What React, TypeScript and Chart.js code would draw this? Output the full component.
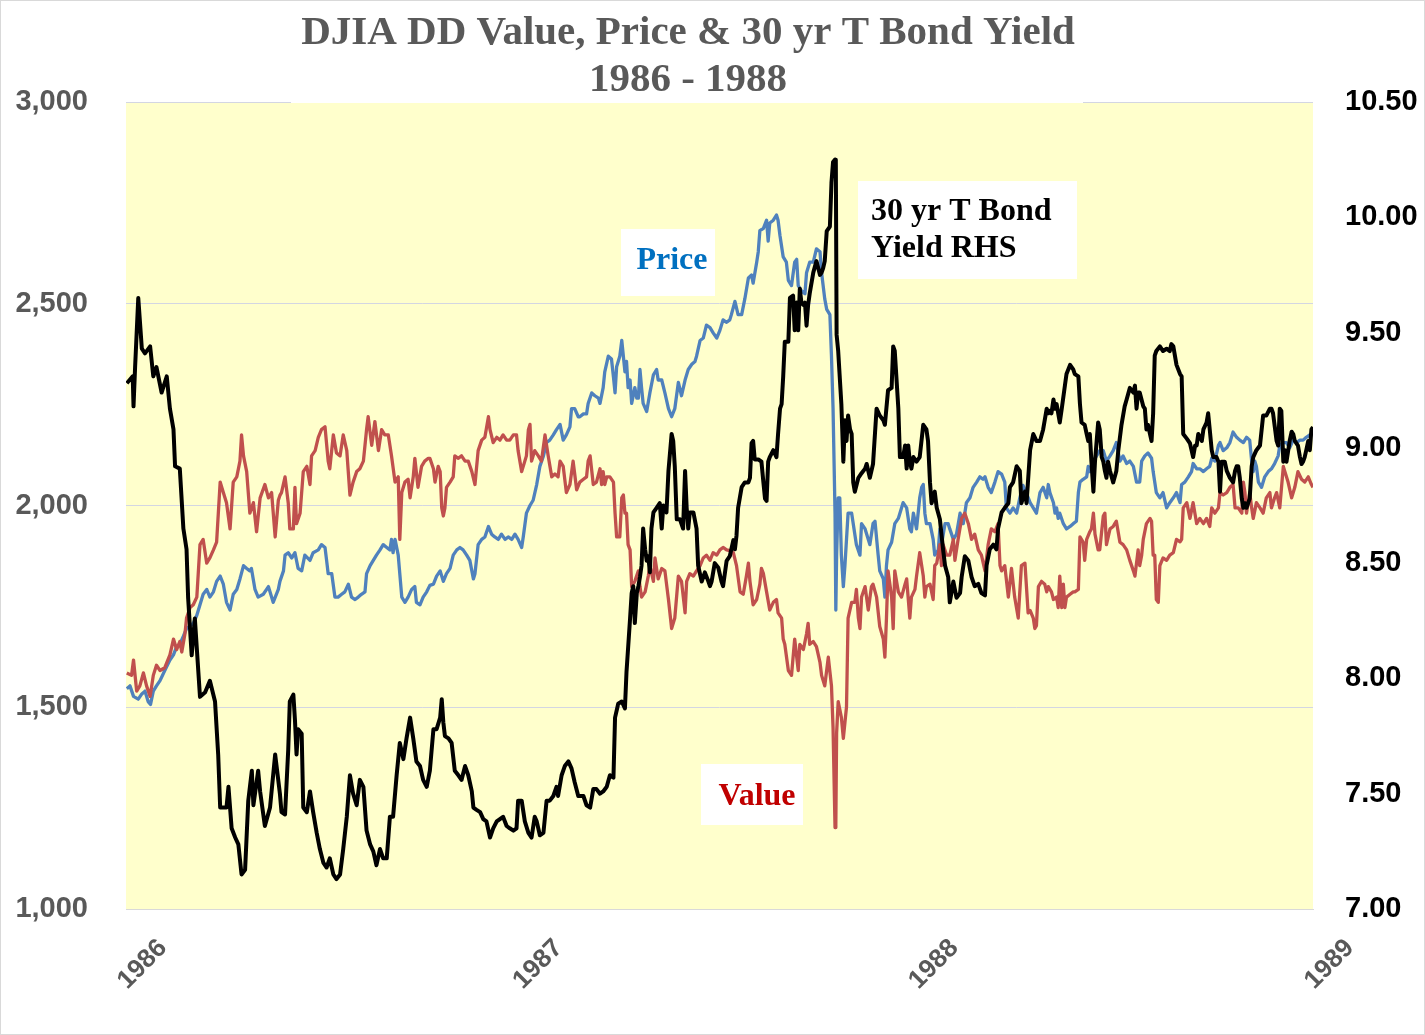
import React, { useEffect, useRef } from "react";
import { Chart, registerables } from "chart.js";

Chart.register(...registerables);

const TITLE_LINES = ["DJIA DD Value, Price & 30 yr T Bond Yield", "1986 - 1988"];
const YEAR_TICKS = [1986, 1987, 1988, 1989];
const LEFT_TICKS = [1000, 1500, 2000, 2500, 3000];
const RIGHT_TICKS = [7, 7.5, 8, 8.5, 9, 9.5, 10, 10.5];

// [decimal year, DJIA price]
const price: [number, number][] = [
  [1986.002,1546],[1986.010,1553],[1986.019,1527],[1986.031,1520],[1986.040,1533],[1986.048,1540],[1986.056,1514],[1986.062,1507],[1986.069,1540],[1986.077,1553],[1986.086,1566],[1986.098,1591],[1986.111,1617],[1986.120,1630],[1986.128,1650],[1986.136,1656],[1986.145,1676],[1986.153,1695],[1986.162,1702],[1986.170,1708],[1986.179,1728],[1986.187,1754],[1986.195,1780],[1986.204,1792],[1986.212,1773],[1986.221,1786],[1986.229,1812],[1986.238,1825],[1986.246,1805],[1986.254,1760],[1986.263,1741],[1986.271,1780],[1986.280,1792],[1986.288,1818],[1986.297,1851],[1986.305,1844],[1986.313,1838],[1986.317,1844],[1986.326,1792],[1986.334,1773],[1986.347,1780],[1986.360,1799],[1986.372,1760],[1986.385,1792],
  [1986.389,1812],[1986.398,1838],[1986.402,1877],[1986.410,1883],[1986.419,1870],[1986.427,1883],[1986.435,1844],[1986.444,1838],[1986.452,1877],[1986.465,1864],[1986.473,1883],[1986.486,1890],[1986.494,1903],[1986.503,1896],[1986.507,1864],[1986.511,1831],[1986.520,1831],[1986.528,1773],[1986.536,1773],[1986.545,1780],[1986.553,1786],[1986.562,1805],[1986.570,1773],[1986.579,1767],[1986.587,1773],[1986.595,1780],[1986.604,1786],[1986.608,1831],[1986.617,1851],[1986.625,1864],[1986.633,1877],[1986.642,1890],[1986.650,1903],[1986.659,1896],[1986.667,1890],[1986.671,1916],[1986.675,1883],[1986.680,1916],[1986.688,1877],[1986.697,1773],[1986.705,1760],[1986.713,1773],[1986.722,1792],[1986.730,1799],[1986.734,1760],[1986.743,1754],[1986.751,1773],[1986.760,1786],
  [1986.768,1802],[1986.777,1805],[1986.785,1825],[1986.794,1838],[1986.802,1812],[1986.810,1831],[1986.819,1844],[1986.827,1877],[1986.836,1890],[1986.844,1896],[1986.852,1890],[1986.861,1877],[1986.869,1864],[1986.878,1818],[1986.882,1831],[1986.890,1903],[1986.899,1916],[1986.907,1922],[1986.916,1948],[1986.924,1929],[1986.932,1922],[1986.941,1916],[1986.949,1929],[1986.958,1916],[1986.966,1922],[1986.975,1916],[1986.983,1929],[1986.991,1916],[1987.000,1896],[1987.004,1922],[1987.012,1981],[1987.021,2000],[1987.029,2013],[1987.038,2052],[1987.046,2097],[1987.055,2123],[1987.063,2156],[1987.071,2162],[1987.080,2175],[1987.088,2188],[1987.097,2201],[1987.105,2162],[1987.113,2175],[1987.122,2195],[1987.126,2240],[1987.134,2240],[1987.143,2220],
  [1987.147,2220],[1987.156,2227],[1987.164,2227],[1987.168,2253],[1987.177,2279],[1987.185,2272],[1987.194,2266],[1987.198,2253],[1987.206,2292],[1987.210,2331],[1987.219,2370],[1987.227,2363],[1987.232,2318],[1987.236,2279],[1987.240,2344],[1987.248,2370],[1987.253,2409],[1987.257,2370],[1987.261,2331],[1987.265,2357],[1987.269,2292],[1987.274,2311],[1987.278,2253],[1987.286,2292],[1987.291,2266],[1987.295,2266],[1987.299,2337],[1987.303,2292],[1987.307,2253],[1987.316,2233],[1987.324,2279],[1987.333,2324],[1987.341,2337],[1987.345,2311],[1987.354,2311],[1987.362,2279],[1987.371,2240],[1987.379,2220],[1987.387,2240],[1987.396,2305],[1987.404,2272],[1987.413,2311],[1987.421,2337],[1987.430,2350],[1987.438,2357],[1987.442,2370],[1987.451,2409],[1987.459,2415],[1987.467,2447],[1987.476,2441],[1987.484,2428],[1987.493,2415],[1987.501,2434],[1987.509,2460],[1987.518,2454],
  [1987.526,2460],[1987.530,2473],[1987.539,2506],[1987.547,2473],[1987.556,2473],[1987.564,2512],[1987.573,2564],[1987.581,2571],[1987.585,2551],[1987.594,2603],[1987.598,2629],[1987.602,2681],[1987.611,2687],[1987.619,2707],[1987.623,2655],[1987.627,2700],[1987.636,2707],[1987.644,2720],[1987.648,2707],[1987.653,2668],[1987.661,2616],[1987.669,2603],[1987.674,2558],[1987.682,2545],[1987.690,2603],[1987.695,2610],[1987.699,2545],[1987.707,2532],[1987.716,2525],[1987.720,2577],[1987.728,2603],[1987.737,2603],[1987.745,2636],[1987.754,2629],[1987.758,2577],[1987.766,2512],[1987.771,2486],[1987.779,2473],[1987.783,2370],[1987.787,2240],[1987.792,1981],[1987.794,1741],[1987.796,1877],[1987.800,2019],[1987.804,2019],[1987.808,1877],[1987.813,1799],[1987.817,1851],[1987.821,1916],[1987.825,1981],[1987.834,1981],[1987.838,1955],[1987.846,1903],[1987.855,1877],[1987.859,1955],[1987.868,1942],[1987.872,1929],[1987.880,1903],[1987.888,1955],[1987.893,1961],[1987.901,1877],
  [1987.905,1838],[1987.914,1818],[1987.918,1773],[1987.922,1851],[1987.926,1890],[1987.935,1909],[1987.943,1955],[1987.952,1968],[1987.956,1981],[1987.964,2007],[1987.973,1994],[1987.981,1942],[1987.985,1935],[1987.990,1981],[1987.998,1942],[1988.006,2019],[1988.011,2045],[1988.015,2052],[1988.019,1981],[1988.023,1955],[1988.032,1955],[1988.040,1916],[1988.044,1877],[1988.053,1890],[1988.057,1942],[1988.061,1903],[1988.070,1955],[1988.078,1955],[1988.082,1942],[1988.091,1916],[1988.099,1929],[1988.108,1981],[1988.116,1955],[1988.124,2007],[1988.133,2019],[1988.141,2045],[1988.150,2058],[1988.158,2071],[1988.166,2065],[1988.171,2071],[1988.179,2045],[1988.187,2032],[1988.196,2058],[1988.204,2084],[1988.213,2078],[1988.221,2058],[1988.225,1994],[1988.234,1981],[1988.242,1994],[1988.251,1981],[1988.259,2019],[1988.267,2050],[1988.276,2030],
  [1988.285,2007],[1988.293,1994],[1988.301,1981],[1988.310,2032],[1988.318,2045],[1988.327,2019],[1988.331,2052],[1988.335,2032],[1988.344,2007],[1988.348,1981],[1988.352,1994],[1988.356,1968],[1988.360,1981],[1988.369,1955],[1988.377,1942],[1988.386,1948],[1988.394,1955],[1988.402,1961],[1988.407,2032],[1988.411,2058],[1988.419,2065],[1988.428,2071],[1988.432,2097],[1988.436,2084],[1988.445,2110],[1988.453,2123],[1988.461,2136],[1988.470,2136],[1988.478,2110],[1988.487,2123],[1988.495,2136],[1988.503,2156],[1988.512,2110],[1988.520,2123],[1988.529,2104],[1988.537,2110],[1988.546,2097],[1988.554,2058],[1988.562,2058],[1988.567,2110],[1988.575,2123],[1988.583,2130],[1988.592,2117],[1988.596,2084],[1988.604,2032],[1988.613,2019],[1988.621,2032],[1988.630,1994],[1988.638,2007],[1988.647,2019],[1988.655,2032],
  [1988.664,2007],[1988.668,2052],[1988.676,2058],[1988.685,2071],[1988.693,2084],[1988.697,2104],[1988.706,2091],[1988.714,2091],[1988.723,2084],[1988.731,2091],[1988.739,2097],[1988.744,2117],[1988.752,2110],[1988.761,2149],[1988.765,2156],[1988.773,2136],[1988.782,2143],[1988.790,2156],[1988.798,2182],[1988.807,2169],[1988.815,2162],[1988.824,2156],[1988.832,2169],[1988.840,2162],[1988.845,2110],[1988.849,2084],[1988.853,2110],[1988.857,2097],[1988.862,2058],[1988.870,2045],[1988.878,2071],[1988.887,2084],[1988.895,2091],[1988.903,2104],[1988.912,2123],[1988.916,2149],[1988.925,2156],[1988.933,2156],[1988.941,2143],[1988.950,2162],[1988.958,2156],[1988.967,2162],[1988.975,2162],[1988.983,2169],[1988.992,2175],[1989.000,2182],
];

// [decimal year, DD value]
const value: [number, number][] = [
  [1986.002,1585],[1986.014,1579],[1986.019,1617],[1986.027,1540],[1986.035,1553],[1986.044,1585],[1986.052,1553],[1986.061,1527],[1986.069,1579],[1986.077,1604],[1986.086,1591],[1986.098,1598],[1986.111,1630],[1986.120,1669],[1986.128,1643],[1986.136,1663],[1986.141,1637],[1986.149,1682],[1986.153,1721],[1986.162,1747],[1986.170,1754],[1986.179,1773],[1986.187,1903],[1986.195,1916],[1986.204,1857],[1986.212,1870],[1986.221,1890],[1986.229,1909],[1986.238,2058],[1986.246,2032],[1986.254,2007],[1986.263,1942],[1986.271,2058],[1986.280,2071],[1986.288,2110],[1986.292,2175],[1986.297,2123],[1986.305,2084],[1986.313,1981],[1986.322,2007],[1986.330,1935],[1986.339,2019],[1986.351,2052],[1986.360,2019],[1986.368,2032],[1986.377,1922],[1986.385,2013],
  [1986.389,2025],[1986.393,2032],[1986.402,2071],[1986.410,2007],[1986.414,1942],[1986.423,1942],[1986.427,2045],[1986.431,1955],[1986.440,1981],[1986.448,2084],[1986.457,2097],[1986.465,2052],[1986.469,2123],[1986.478,2136],[1986.486,2169],[1986.494,2188],[1986.503,2195],[1986.511,2110],[1986.515,2091],[1986.524,2175],[1986.532,2130],[1986.541,2123],[1986.549,2175],[1986.558,2136],[1986.566,2026],[1986.574,2058],[1986.583,2084],[1986.591,2091],[1986.600,2110],[1986.608,2188],[1986.612,2220],[1986.621,2149],[1986.629,2208],[1986.638,2136],[1986.646,2188],[1986.654,2175],[1986.663,2175],[1986.671,2123],[1986.680,2058],[1986.688,2071],[1986.692,1916],[1986.697,2032],[1986.705,2058],[1986.713,2065],[1986.718,2019],[1986.726,2071],[1986.730,2117],[1986.738,2045],[1986.747,2097],[1986.755,2110],[1986.764,2117],
  [1986.768,2117],[1986.777,2091],[1986.781,2058],[1986.789,2097],[1986.794,2084],[1986.798,1994],[1986.802,1974],[1986.806,1994],[1986.810,2045],[1986.819,2058],[1986.827,2071],[1986.831,2123],[1986.840,2117],[1986.848,2123],[1986.857,2110],[1986.865,2110],[1986.874,2084],[1986.882,2052],[1986.890,2136],[1986.899,2162],[1986.907,2169],[1986.916,2220],[1986.920,2188],[1986.928,2156],[1986.937,2169],[1986.945,2162],[1986.953,2175],[1986.962,2162],[1986.970,2162],[1986.979,2175],[1986.987,2175],[1986.991,2136],[1987.000,2084],[1987.008,2110],[1987.012,2123],[1987.017,2188],[1987.021,2201],[1987.025,2110],[1987.033,2136],[1987.042,2123],[1987.050,2110],[1987.059,2175],[1987.067,2123],[1987.076,2071],[1987.084,2078],[1987.092,2071],[1987.097,2110],[1987.105,2097],[1987.113,2032],[1987.122,2052],[1987.130,2110],[1987.139,2039],
  [1987.147,2058],[1987.156,2065],[1987.164,2071],[1987.168,2110],[1987.173,2123],[1987.181,2052],[1987.189,2058],[1987.198,2091],[1987.202,2052],[1987.206,2084],[1987.210,2052],[1987.215,2071],[1987.223,2071],[1987.232,2058],[1987.236,1981],[1987.240,1922],[1987.248,1922],[1987.253,2019],[1987.257,2026],[1987.261,1981],[1987.265,1981],[1987.269,1903],[1987.274,1890],[1987.278,1799],[1987.286,1812],[1987.295,1838],[1987.299,1799],[1987.303,1773],[1987.312,1786],[1987.320,1825],[1987.324,1851],[1987.333,1812],[1987.337,1870],[1987.345,1818],[1987.354,1844],[1987.362,1838],[1987.371,1767],[1987.379,1695],[1987.387,1721],[1987.396,1825],[1987.404,1812],[1987.413,1734],[1987.417,1812],[1987.425,1831],[1987.434,1825],[1987.442,1838],[1987.451,1851],[1987.459,1870],[1987.467,1877],[1987.476,1864],[1987.484,1883],[1987.493,1877],[1987.501,1890],[1987.509,1896],[1987.518,1890],
  [1987.526,1888],[1987.535,1883],[1987.543,1851],[1987.552,1786],[1987.560,1780],[1987.568,1825],[1987.573,1857],[1987.577,1812],[1987.585,1754],[1987.594,1767],[1987.602,1805],[1987.606,1844],[1987.611,1831],[1987.619,1786],[1987.627,1741],[1987.636,1760],[1987.644,1767],[1987.648,1734],[1987.657,1721],[1987.661,1669],[1987.665,1656],[1987.674,1591],[1987.682,1579],[1987.690,1669],[1987.699,1591],[1987.703,1656],[1987.712,1643],[1987.720,1682],[1987.724,1708],[1987.728,1656],[1987.737,1663],[1987.745,1650],[1987.754,1611],[1987.758,1579],[1987.766,1553],[1987.775,1624],[1987.783,1553],[1987.787,1449],[1987.792,1202],[1987.794,1209],[1987.796,1436],[1987.800,1514],[1987.808,1475],[1987.813,1423],[1987.817,1462],[1987.821,1501],[1987.825,1721],[1987.834,1760],[1987.842,1760],[1987.846,1792],[1987.851,1721],[1987.855,1695],[1987.859,1773],[1987.868,1799],[1987.876,1741],[1987.884,1799],[1987.888,1805],[1987.897,1773],
  [1987.905,1700],[1987.914,1669],[1987.918,1624],[1987.922,1721],[1987.926,1838],[1987.935,1773],[1987.939,1695],[1987.943,1838],[1987.952,1786],[1987.960,1773],[1987.969,1805],[1987.973,1818],[1987.981,1721],[1987.985,1773],[1987.994,1792],[1987.998,1825],[1988.006,1883],[1988.015,1825],[1988.019,1773],[1988.023,1799],[1988.032,1805],[1988.040,1767],[1988.044,1851],[1988.049,1857],[1988.057,1903],[1988.061,1851],[1988.065,1903],[1988.074,1877],[1988.082,1877],[1988.091,1916],[1988.095,1864],[1988.103,1916],[1988.112,1968],[1988.120,1981],[1988.129,1955],[1988.137,1916],[1988.145,1929],[1988.154,1890],[1988.162,1877],[1988.171,1838],[1988.179,1903],[1988.187,1942],[1988.196,1935],[1988.204,1955],[1988.209,1851],[1988.213,1838],[1988.221,1851],[1988.230,1773],[1988.238,1844],[1988.246,1773],[1988.255,1721],[1988.263,1851],[1988.272,1857],[1988.280,1734],
  [1988.285,1740],[1988.293,1721],[1988.297,1695],[1988.301,1702],[1988.306,1799],[1988.314,1812],[1988.322,1805],[1988.327,1786],[1988.331,1799],[1988.339,1786],[1988.344,1767],[1988.352,1773],[1988.356,1747],[1988.360,1825],[1988.365,1747],[1988.369,1805],[1988.373,1747],[1988.377,1773],[1988.386,1780],[1988.394,1786],[1988.398,1786],[1988.407,1792],[1988.411,1922],[1988.419,1909],[1988.423,1864],[1988.428,1916],[1988.436,1935],[1988.440,1942],[1988.445,1981],[1988.449,1929],[1988.457,1890],[1988.461,1890],[1988.470,1974],[1988.474,1981],[1988.478,1903],[1988.487,1942],[1988.495,1948],[1988.499,1955],[1988.503,1961],[1988.512,1909],[1988.520,1903],[1988.529,1890],[1988.537,1864],[1988.546,1838],[1988.550,1825],[1988.558,1890],[1988.562,1851],[1988.567,1877],[1988.571,1916],[1988.579,1955],[1988.588,1968],[1988.592,1961],[1988.596,1877],[1988.600,1877],[1988.604,1767],[1988.609,1760],[1988.613,1851],[1988.621,1870],[1988.630,1864],[1988.638,1877],[1988.647,1883],[1988.655,1916],
  [1988.664,1910],[1988.668,1916],[1988.672,1994],[1988.681,2007],[1988.689,1968],[1988.697,2007],[1988.706,1955],[1988.714,1968],[1988.723,1955],[1988.731,1968],[1988.739,1948],[1988.744,1994],[1988.752,1981],[1988.761,1994],[1988.765,2032],[1988.773,2026],[1988.782,2032],[1988.790,2045],[1988.798,2052],[1988.803,1994],[1988.811,1994],[1988.820,1981],[1988.824,2058],[1988.828,2032],[1988.832,1981],[1988.840,2032],[1988.845,1994],[1988.849,1968],[1988.857,2007],[1988.866,1994],[1988.874,1981],[1988.882,2019],[1988.891,2032],[1988.895,1994],[1988.903,2019],[1988.908,2032],[1988.916,1994],[1988.925,2097],[1988.929,2084],[1988.937,2058],[1988.946,2019],[1988.954,2045],[1988.962,2084],[1988.971,2065],[1988.979,2058],[1988.988,2071],[1988.996,2052],[1989.000,2045],
];

// [decimal year, 30 yr T bond yield %]
const bondYield: [number, number][] = [
  [1986.002,9.28],[1986.017,9.31],[1986.019,9.18],[1986.023,9.35],[1986.031,9.65],[1986.040,9.43],[1986.048,9.41],[1986.061,9.44],[1986.069,9.31],[1986.077,9.35],[1986.090,9.24],[1986.103,9.31],[1986.111,9.17],[1986.120,9.08],[1986.124,8.92],[1986.136,8.91],[1986.145,8.65],[1986.153,8.56],[1986.157,8.35],[1986.166,8.10],[1986.174,8.26],[1986.187,7.92],[1986.200,7.94],[1986.212,7.99],[1986.225,7.90],[1986.233,7.67],[1986.238,7.44],[1986.254,7.44],[1986.259,7.53],[1986.267,7.35],[1986.276,7.31],[1986.284,7.28],[1986.292,7.15],[1986.301,7.17],[1986.309,7.47],[1986.318,7.60],[1986.322,7.45],[1986.334,7.60],[1986.339,7.51],[1986.351,7.36],[1986.364,7.44],[1986.377,7.67],
  [1986.389,7.50],[1986.393,7.42],[1986.402,7.41],[1986.410,7.69],[1986.414,7.90],[1986.423,7.93],[1986.427,7.82],[1986.431,7.67],[1986.435,7.78],[1986.444,7.76],[1986.448,7.44],[1986.457,7.42],[1986.465,7.51],[1986.473,7.42],[1986.482,7.33],[1986.490,7.26],[1986.499,7.20],[1986.507,7.18],[1986.515,7.22],[1986.524,7.15],[1986.532,7.13],[1986.541,7.15],[1986.549,7.26],[1986.558,7.40],[1986.566,7.58],[1986.574,7.50],[1986.583,7.45],[1986.591,7.56],[1986.600,7.53],[1986.608,7.34],[1986.617,7.28],[1986.625,7.25],[1986.633,7.19],[1986.642,7.26],[1986.650,7.22],[1986.659,7.22],[1986.667,7.40],[1986.675,7.40],[1986.684,7.58],[1986.692,7.72],[1986.701,7.65],[1986.709,7.74],[1986.718,7.83],[1986.726,7.74],[1986.734,7.64],[1986.743,7.62],[1986.751,7.56],[1986.760,7.53],
  [1986.768,7.60],[1986.777,7.78],[1986.785,7.78],[1986.794,7.83],[1986.798,7.91],[1986.802,7.81],[1986.806,7.75],[1986.815,7.74],[1986.823,7.72],[1986.831,7.60],[1986.840,7.58],[1986.848,7.56],[1986.857,7.62],[1986.865,7.58],[1986.874,7.51],[1986.878,7.44],[1986.886,7.43],[1986.895,7.42],[1986.903,7.39],[1986.911,7.38],[1986.920,7.31],[1986.928,7.35],[1986.937,7.38],[1986.945,7.39],[1986.953,7.40],[1986.962,7.36],[1986.970,7.35],[1986.979,7.34],[1986.987,7.35],[1986.991,7.47],[1987.000,7.47],[1987.008,7.38],[1987.017,7.33],[1987.025,7.31],[1987.033,7.40],[1987.038,7.38],[1987.046,7.32],[1987.055,7.33],[1987.063,7.47],[1987.071,7.47],[1987.080,7.49],[1987.088,7.53],[1987.092,7.49],[1987.101,7.58],[1987.109,7.62],[1987.118,7.64],[1987.126,7.61],[1987.134,7.55],[1987.143,7.49],
  [1987.147,7.49],[1987.156,7.49],[1987.164,7.45],[1987.173,7.44],[1987.181,7.52],[1987.189,7.52],[1987.198,7.50],[1987.206,7.51],[1987.215,7.53],[1987.223,7.58],[1987.232,7.57],[1987.236,7.83],[1987.244,7.89],[1987.253,7.90],[1987.261,7.87],[1987.265,8.03],[1987.274,8.26],[1987.278,8.37],[1987.282,8.40],[1987.286,8.24],[1987.291,8.37],[1987.295,8.40],[1987.299,8.44],[1987.303,8.49],[1987.307,8.65],[1987.312,8.56],[1987.316,8.51],[1987.320,8.53],[1987.324,8.46],[1987.328,8.65],[1987.333,8.72],[1987.341,8.74],[1987.349,8.76],[1987.354,8.65],[1987.358,8.75],[1987.366,8.72],[1987.371,8.90],[1987.379,9.06],[1987.383,9.03],[1987.387,8.92],[1987.392,8.69],[1987.400,8.69],[1987.408,8.65],[1987.413,8.90],[1987.417,8.74],[1987.421,8.65],[1987.425,8.72],[1987.434,8.72],[1987.442,8.65],[1987.446,8.49],[1987.455,8.42],[1987.463,8.46],[1987.472,8.42],[1987.476,8.40],[1987.480,8.42],[1987.488,8.50],[1987.497,8.48],[1987.505,8.42],[1987.509,8.40],[1987.518,8.51],
  [1987.526,8.53],[1987.535,8.60],[1987.539,8.56],[1987.543,8.62],[1987.547,8.74],[1987.556,8.83],[1987.564,8.85],[1987.573,8.85],[1987.577,8.87],[1987.581,9.02],[1987.585,9.03],[1987.589,8.95],[1987.598,8.95],[1987.606,8.94],[1987.611,8.85],[1987.615,8.78],[1987.619,8.77],[1987.623,8.94],[1987.627,8.96],[1987.636,8.99],[1987.644,8.96],[1987.648,9.06],[1987.653,9.17],[1987.657,9.19],[1987.661,9.31],[1987.665,9.46],[1987.674,9.46],[1987.678,9.65],[1987.686,9.66],[1987.690,9.51],[1987.695,9.63],[1987.699,9.51],[1987.703,9.69],[1987.707,9.63],[1987.712,9.62],[1987.716,9.63],[1987.720,9.53],[1987.724,9.62],[1987.728,9.67],[1987.737,9.76],[1987.745,9.81],[1987.754,9.75],[1987.758,9.76],[1987.762,9.78],[1987.766,9.81],[1987.771,9.94],[1987.779,9.96],[1987.783,10.15],[1987.787,10.24],[1987.792,10.25],[1987.794,10.24],[1987.796,9.49],[1987.800,9.42],[1987.808,9.19],[1987.813,8.94],[1987.817,9.12],[1987.821,9.03],[1987.825,9.14],[1987.830,9.08],[1987.834,9.06],[1987.838,8.85],[1987.842,8.81],[1987.851,8.87],[1987.859,8.89],[1987.868,8.91],[1987.872,8.93],[1987.880,8.87],[1987.888,8.93],[1987.897,9.17],
  [1987.905,9.14],[1987.914,9.12],[1987.918,9.10],[1987.926,9.25],[1987.935,9.26],[1987.939,9.44],[1987.943,9.42],[1987.952,9.17],[1987.956,8.96],[1987.964,8.96],[1987.969,9.01],[1987.973,8.91],[1987.977,9.01],[1987.981,8.94],[1987.985,8.91],[1987.990,8.96],[1987.998,8.94],[1988.006,8.96],[1988.015,9.10],[1988.023,9.08],[1988.027,9.03],[1988.032,8.85],[1988.036,8.76],[1988.044,8.81],[1988.049,8.74],[1988.057,8.69],[1988.065,8.56],[1988.070,8.49],[1988.078,8.44],[1988.082,8.33],[1988.091,8.42],[1988.099,8.35],[1988.108,8.37],[1988.112,8.44],[1988.120,8.53],[1988.129,8.51],[1988.137,8.44],[1988.145,8.40],[1988.154,8.41],[1988.162,8.37],[1988.171,8.36],[1988.175,8.49],[1988.183,8.56],[1988.192,8.58],[1988.200,8.56],[1988.204,8.65],[1988.213,8.72],[1988.221,8.74],[1988.230,8.76],[1988.234,8.83],[1988.242,8.85],[1988.251,8.92],[1988.259,8.90],[1988.263,8.76],[1988.272,8.81],[1988.276,8.76],
  [1988.285,8.99],[1988.293,9.06],[1988.301,9.03],[1988.310,9.03],[1988.318,9.08],[1988.322,9.12],[1988.327,9.17],[1988.331,9.15],[1988.335,9.16],[1988.339,9.15],[1988.344,9.21],[1988.348,9.17],[1988.352,9.19],[1988.360,9.11],[1988.365,9.17],[1988.373,9.27],[1988.377,9.32],[1988.386,9.36],[1988.394,9.34],[1988.398,9.32],[1988.407,9.31],[1988.411,9.19],[1988.415,9.11],[1988.423,9.10],[1988.428,9.06],[1988.432,9.03],[1988.436,9.06],[1988.440,8.94],[1988.445,8.81],[1988.449,8.94],[1988.457,9.11],[1988.461,9.08],[1988.466,8.96],[1988.470,8.94],[1988.474,8.90],[1988.478,8.87],[1988.482,8.94],[1988.487,8.90],[1988.495,8.85],[1988.503,8.90],[1988.508,8.99],[1988.516,9.10],[1988.524,9.18],[1988.529,9.21],[1988.537,9.26],[1988.546,9.24],[1988.550,9.27],[1988.554,9.17],[1988.558,9.24],[1988.562,9.24],[1988.571,9.18],[1988.575,9.17],[1988.579,9.08],[1988.583,9.10],[1988.588,9.06],[1988.592,9.03],[1988.596,9.15],[1988.600,9.40],[1988.604,9.42],[1988.613,9.44],[1988.621,9.42],[1988.630,9.43],[1988.638,9.42],[1988.642,9.45],[1988.647,9.44],[1988.651,9.40],[1988.655,9.36],
  [1988.664,9.32],[1988.668,9.31],[1988.672,9.06],[1988.681,9.04],[1988.689,9.02],[1988.693,8.99],[1988.697,8.96],[1988.702,9.01],[1988.706,9.01],[1988.710,9.06],[1988.719,9.03],[1988.723,9.08],[1988.731,9.11],[1988.735,9.15],[1988.739,9.08],[1988.744,8.99],[1988.748,8.96],[1988.756,8.96],[1988.761,8.94],[1988.765,8.81],[1988.769,8.94],[1988.777,8.94],[1988.782,8.90],[1988.790,8.87],[1988.798,8.85],[1988.803,8.90],[1988.807,8.92],[1988.811,8.92],[1988.815,8.87],[1988.820,8.78],[1988.824,8.74],[1988.828,8.76],[1988.832,8.74],[1988.836,8.76],[1988.840,8.78],[1988.845,8.92],[1988.849,8.96],[1988.857,8.99],[1988.866,9.01],[1988.874,9.14],[1988.882,9.14],[1988.891,9.17],[1988.895,9.17],[1988.899,9.15],[1988.908,9.03],[1988.912,9.01],[1988.916,9.17],[1988.920,9.16],[1988.925,8.94],[1988.929,8.99],[1988.933,8.94],[1988.941,9.03],[1988.946,9.07],[1988.950,9.06],[1988.954,9.03],[1988.962,9.01],[1988.967,8.96],[1988.971,8.93],[1988.975,8.94],[1988.979,8.96],[1988.983,8.99],[1988.988,9.03],[1988.992,8.99],[1988.996,9.08],[1989.000,9.09],
];

const toPoints = (arr: [number, number][]) => arr.map(([x, y]) => ({ x, y }));

const SERIF = "'Liberation Serif', 'Times New Roman', serif";
const SANS = "'Liberation Sans', Arial, sans-serif";

const decor = {
  id: "decor",
  beforeDraw(chart: any) {
    const { ctx, chartArea: a } = chart;
    ctx.save();
    ctx.fillStyle = "#ffffff";
    ctx.fillRect(0, 0, chart.width, chart.height);
    ctx.fillStyle = "#FFFFCC";
    ctx.fillRect(a.left, a.top, a.right - a.left, a.bottom - a.top);
    ctx.restore();
  },
  afterDraw(chart: any) {
    const { ctx } = chart;
    ctx.save();
    // title area (white background hides top gridline)
    ctx.fillStyle = "#ffffff";
    ctx.fillRect(291, 0, 792, 103);
    ctx.fillStyle = "#595959";
    ctx.textAlign = "center";
    ctx.textBaseline = "alphabetic";
    ctx.font = `bold 41px ${SERIF}`;
    ctx.fillText(TITLE_LINES[0], 688, 44);
    ctx.fillText(TITLE_LINES[1], 688, 91);

    // annotation boxes
    const box = (x: number, y: number, w: number, h: number) => {
      ctx.fillStyle = "#ffffff";
      ctx.fillRect(x, y, w, h);
    };
    ctx.font = `bold 32px ${SERIF}`;
    box(621, 229, 94, 67);
    ctx.fillStyle = "#0070C0";
    ctx.textAlign = "center";
    ctx.fillText("Price", 672, 269);

    box(701, 764, 102, 61);
    ctx.fillStyle = "#C00000";
    ctx.fillText("Value", 757, 805);

    box(858, 181, 219, 98);
    ctx.fillStyle = "#000000";
    ctx.textAlign = "left";
    ctx.fillText("30 yr T Bond", 871, 220);
    ctx.fillText("Yield RHS", 871, 257);

    // outer border
    ctx.strokeStyle = "#D9D9D9";
    ctx.lineWidth = 1;
    ctx.strokeRect(0.5, 0.5, chart.width - 1, chart.height - 1);
    ctx.restore();
  },
};

export default function App() {
  const ref = useRef<HTMLCanvasElement>(null);

  useEffect(() => {
    document.body.style.margin = "0";
    const canvas = ref.current;
    if (!canvas) return;
    const chart = new Chart(canvas, {
      type: "line",
      data: {
        datasets: [
          {
            label: "30 yr T Bond Yield RHS",
            data: toPoints(bondYield),
            yAxisID: "y2",
            borderColor: "#000000",
            borderWidth: 4,
            borderJoinStyle: "round",
            pointRadius: 0,
            tension: 0,
            order: 0,
          },
          {
            label: "Value",
            data: toPoints(value),
            yAxisID: "y",
            borderColor: "#C0504D",
            borderWidth: 3.3,
            borderJoinStyle: "round",
            pointRadius: 0,
            tension: 0,
            order: 1,
          },
          {
            label: "Price",
            data: toPoints(price),
            yAxisID: "y",
            borderColor: "#4F81BD",
            borderWidth: 3.3,
            borderJoinStyle: "round",
            pointRadius: 0,
            tension: 0,
            order: 2,
          },
        ],
      } as any,
      options: {
        responsive: false,
        animation: false,
        devicePixelRatio: 1,
        layout: { padding: { top: 102, left: 0, right: 0, bottom: 0 } },
        plugins: {
          legend: { display: false },
          tooltip: { enabled: false },
          title: { display: false },
        },
        scales: {
          x: {
            type: "linear",
            min: 1986,
            max: 1989,
            afterBuildTicks: (s: any) => {
              s.ticks = YEAR_TICKS.map((v) => ({ value: v }));
            },
            afterFit: (s: any) => {
              s.height = 126;
            },
            ticks: {
              autoSkip: false,
              maxRotation: 45,
              minRotation: 45,
              color: "#595959",
              font: { family: SANS, weight: "bold", size: 26 },
              padding: 24,
              labelOffset: 37,
              callback: (v: any) => String(v),
            },
            grid: { display: false, drawTicks: false },
            border: { display: true, color: "#D9D9D9", width: 1 },
          },
          y: {
            position: "left",
            min: 1000,
            max: 3000,
            afterBuildTicks: (s: any) => {
              s.ticks = LEFT_TICKS.map((v) => ({ value: v }));
            },
            afterFit: (s: any) => {
              s.width = 126;
            },
            ticks: {
              color: "#595959",
              font: { family: SANS, weight: "bold", size: 29 },
              padding: 38,
              callback: (v: any) => Number(v).toLocaleString("en-US"),
            },
            grid: { color: "#D3D6E2", drawTicks: false, lineWidth: 1 },
            border: { display: false },
          },
          y2: {
            position: "right",
            min: 7,
            max: 10.5,
            afterBuildTicks: (s: any) => {
              s.ticks = RIGHT_TICKS.map((v) => ({ value: v }));
            },
            afterFit: (s: any) => {
              s.width = 112;
            },
            ticks: {
              color: "#000000",
              font: { family: SANS, weight: "bold", size: 29 },
              padding: 32,
              callback: (v: any) => Number(v).toFixed(2),
            },
            grid: { display: false, drawTicks: false },
            border: { display: false },
          },
        },
      } as any,
      plugins: [decor],
    });
    return () => chart.destroy();
  }, []);

  return (
    <div style={{ width: 1425, height: 1035 }}>
      <canvas ref={ref} width={1425} height={1035} style={{ display: "block", width: 1425, height: 1035 }} />
    </div>
  );
}
